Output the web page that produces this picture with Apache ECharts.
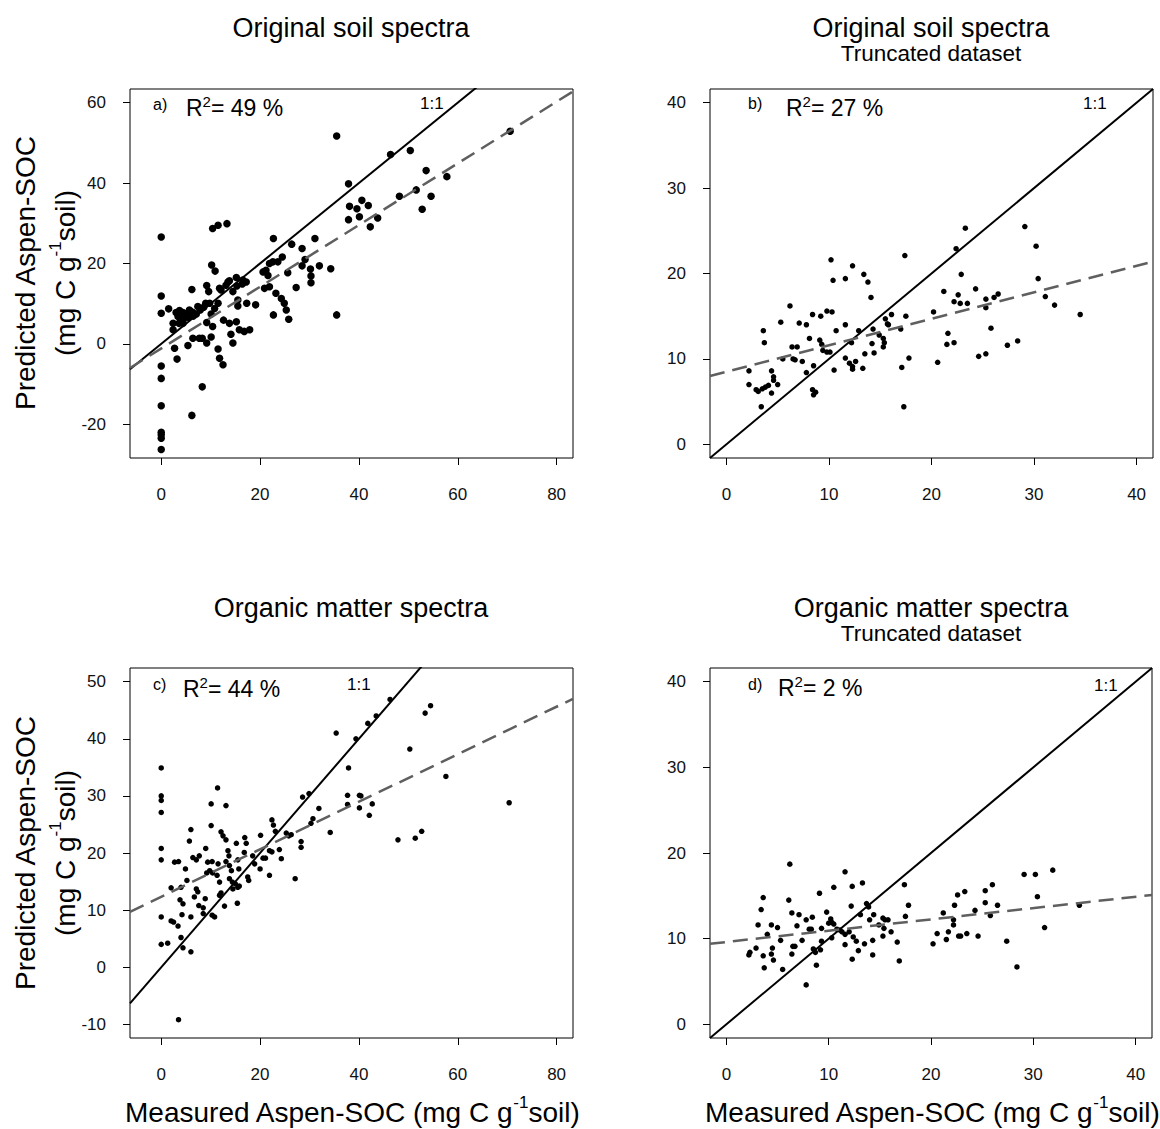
<!DOCTYPE html>
<html><head><meta charset="utf-8">
<script src="https://cdn.jsdelivr.net/npm/echarts@6/dist/echarts.min.js"></script>
<style>html,body{margin:0;padding:0;background:#fff}#c{width:1160px;height:1129px}</style>
</head><body><div id="c"></div>
<script>
// ---------- data (measured, predicted) ----------
const pointsA = [[0,26.6],[0,11.9],[0,7.6],[0,-5.5],[0,-8.6],[0,-15.4],[0,-22.0],[0,-22.6],[0,-23.5],[0,-26.3],
[1.5,8.7],[2.7,-1.1],[3.2,-3.8],[5.4,-0.4],[6.2,13.5],[6.2,-17.8],[8.3,-10.7],
[10.4,28.7],[11.5,29.5],[13.3,29.9],[10.2,19.6],[10.9,18.1],[9.2,14.5],[9.6,13.0],
[3.0,7.8],[3.7,8.3],[4.4,7.8],[5.0,7.4],[5.7,8.4],[6.4,7.8],[7.1,7.4],[7.9,8.4],[8.6,9.1],
[2.4,5.1],[3.6,5.1],[4.5,6.1],[5.5,6.6],[6.5,6.9],
[9.8,10.1],[10.8,8.8],[10.1,7.4],[11.5,10.1],[12.1,13.4],[13.1,14.6],[13.8,15.7],[15.2,16.5],[16.4,14.9],[17.2,15.4],[14.5,13.0],[15.5,10.9],
[12.6,5.9],[13.8,5.1],[15.2,5.5],[15.8,3.5],[16.8,3.1],[17.9,3.5],[14.1,2.4],[14.5,0.2],
[10.4,4.3],[10.1,1.7],[9.2,0.2],[7.7,1.4],[6.4,1.4],[11.5,-1.3],[11.8,-3.6],[12.5,-5.2],
[15.5,9.4],[17.3,10.1],[19.1,9.7],
[22.7,26.2],[26.4,24.8],[28.5,23.7],[31.1,26.2],[24.5,21.6],[22.6,20.4],[23.6,20.4],[21.2,18.3],[21.6,17.0],[20.9,13.8],[21.9,14.2],[23.2,12.6],[24.3,11.3],[24.9,10.1],[25.3,8.4],[25.8,6.1],[22.7,7.2],[25.6,17.7],[27.3,14.0],[28.5,19.4],[29.1,21.0],[30.2,18.6],[30.3,16.9],[30.3,15.2],[32.0,19.4],[34.3,18.7],[35.5,7.2],
[35.5,51.7],[37.9,39.8],[38.1,34.2],[39.6,33.6],[40.6,35.7],[41.9,34.4],[37.9,30.9],[40.1,31.6],[42.3,29.1],[43.8,31.3],
[46.4,47.1],[50.4,48.1],[53.6,43.1],[57.8,41.6],[51.6,38.3],[54.6,36.7],[48.2,36.7],[52.8,33.5],[70.6,52.9],
[9.0,10.1],[7.4,9.3],[6.1,8.0],[4.0,7.4],[3.4,6.8],[11.8,13.8],[13.5,15.4],[16.5,15.9],[15.3,14.4],[9.2,5.3],[8.3,1.4],[2.4,3.5],[4.4,5.1],[21.9,20.0],[20.6,17.9]];

const pointsB = [[2.2,8.6],[2.2,7.0],[2.9,6.4],[3.1,6.2],[3.5,6.5],[3.8,6.7],[4.1,6.9],[3.4,4.4],[3.6,13.3],[3.7,11.9],
[4.4,8.6],[4.6,7.9],[4.6,7.5],[5.0,7.0],[4.4,6.0],[5.3,14.3],[5.5,10.0],[6.2,16.2],[6.4,11.4],[6.9,11.4],
[6.5,10.0],[6.7,9.9],[7.1,14.2],[7.8,14.0],[7.4,9.7],[7.8,8.4],[8.1,12.4],[8.4,15.2],[8.5,9.2],[8.4,6.4],[8.7,6.1],[8.5,5.8],
[9.1,12.2],[9.3,11.7],[9.4,11.0],[9.2,15.0],[9.8,15.6],[10.3,15.5],[10.2,21.6],[10.4,19.2],[9.8,10.8],[10.1,10.8],
[10.7,13.3],[10.5,8.7],[11.6,14.0],[11.6,10.1],[11.6,19.4],[12.0,9.5],[12.3,9.1],[12.3,8.8],[12.6,9.7],[12.3,20.9],[12.2,11.9],
[12.9,13.3],[13.3,8.9],[13.4,19.9],[13.8,19.0],[13.5,10.6],[14.1,17.2],[14.3,13.5],[14.2,11.8],[14.4,10.7],[14.9,12.8],
[15.3,12.4],[15.4,11.9],[15.3,11.4],[15.5,14.7],[15.7,14.1],[15.8,14.0],[16.1,15.2],[17.0,13.5],[17.1,9.0],[17.4,22.1],[17.3,4.4],[17.5,15.0],[17.8,10.1],
[20.2,15.5],[20.6,9.6],[21.2,17.9],[21.6,13.0],[21.5,11.7],[22.2,11.9],[22.2,16.7],[22.6,17.5],[22.8,16.5],[23.5,16.5],[22.4,22.9],[22.9,19.9],[23.3,25.3],
[24.3,18.2],[24.6,10.3],[25.3,10.6],[25.3,17.0],[25.3,16.0],[26.1,17.2],[26.5,17.6],[25.8,13.6],[27.4,11.6],[28.4,12.1],
[29.1,25.5],[30.2,23.2],[30.4,19.4],[31.1,17.3],[32.0,16.3],[34.5,15.2]];

const pointsC = [[0,34.9],[0,30.0],[0,29.2],[0,27.1],[0,20.8],[0,18.8],[0,8.8],[0,4.0],[1.3,4.2],[2.0,13.9],[2.7,18.4],[3.5,18.5],
[2.0,8.1],[2.5,7.9],[3.4,7.2],[3.5,-9.2],[4.0,5.2],[4.4,3.4],[4.0,14.0],[3.8,11.8],[4.4,11.1],[4.2,9.2],[4.9,17.2],[5.2,15.2],
[5.7,22.1],[6.0,24.1],[6.0,8.8],[6.0,2.7],[6.4,19.2],[7.1,18.8],[7.7,19.5],[9.0,20.8],[7.1,13.7],[7.4,13.2],[6.7,12.3],
[7.6,10.8],[8.5,10.4],[8.9,12.0],[8.5,9.4],[10.3,9.1],[10.8,8.8],[9.4,18.4],[10.3,18.5],[9.8,16.9],[9.2,16.5],[10.4,16.5],
[10.1,28.6],[10.1,24.8],[11.4,31.4],[13.1,28.3],[12.1,23.7],[12.5,23.0],[13.1,22.3],[11.5,18.1],[11.3,16.1],[11.8,14.9],[12.1,13.0],[11.8,12.6],
[12.8,10.7],[13.5,20.4],[13.7,19.5],[13.1,18.5],[13.8,17.8],[14.2,16.9],[13.8,15.5],[14.4,14.9],[15.0,14.6],[14.5,13.7],[15.5,14.0],[15.8,14.2],
[15.2,21.7],[15.5,18.8],[15.7,17.2],[15.4,11.2],[16.9,22.7],[17.2,21.7],[16.8,20.1],[17.5,15.8],[17.7,15.2],[18.5,19.5],[18.9,18.1],[20.0,17.2],
[20.1,23.1],[20.6,19.1],[21.1,19.1],[21.9,16.1],[22.4,25.8],[22.7,24.9],[23.1,23.8],[21.9,20.4],[22.4,20.2],[23.9,20.6],[24.3,19.0],
[25.3,23.5],[25.8,23.0],[26.3,23.2],[27.1,15.5],[28.3,22.0],[28.3,21.0],[28.6,29.8],[29.9,30.4],[30.3,25.2],[30.7,26.0],[31.9,27.8],[34.2,23.6],
[35.4,41.0],[37.9,34.9],[37.7,30.1],[37.7,28.5],[40.1,30.1],[40.1,27.9],[40.4,30.0],[42.1,26.6],[42.7,28.6],
[39.4,40.0],[41.8,42.7],[43.5,44.0],[46.3,46.9],[47.9,22.3],[51.4,22.6],[52.7,23.8],[50.3,38.2],[53.4,44.5],[54.5,45.8],[57.6,33.4],[70.4,28.8]];

const pointsD = [[2.2,8.1],[2.3,8.4],[2.9,8.9],[3.1,11.6],[3.4,13.4],[3.6,14.8],[3.6,8.0],[3.7,6.6],[4.0,10.5],[4.4,11.6],[5.0,11.3],
[4.5,8.9],[4.4,8.2],[4.6,7.5],[5.3,9.8],[5.5,6.4],[6.2,18.7],[6.1,14.5],[6.4,13.0],[7.1,12.8],[6.4,8.2],[6.5,9.1],[6.7,9.1],
[6.9,11.5],[7.4,9.8],[7.8,12.2],[8.4,12.5],[8.1,11.1],[8.3,11.1],[7.8,4.6],[8.5,8.8],[8.7,8.4],[9.2,8.7],[8.8,6.9],[9.1,15.3],
[9.3,9.7],[9.3,11.2],[9.8,13.1],[10.2,12.3],[10.3,11.9],[10.5,11.7],[10.0,11.8],[10.3,10.1],[10.5,16.0],[10.8,11.1],[11.1,11.0],
[11.3,10.8],[11.6,10.5],[11.6,17.8],[11.6,9.3],[12.2,13.8],[12.3,16.1],[12.3,7.6],[12.0,10.8],[12.4,10.2],[12.7,9.7],[12.9,8.6],
[13.1,12.8],[13.3,16.5],[13.5,9.4],[13.7,14.1],[13.9,13.7],[14.4,12.8],[14.0,12.2],[14.3,9.8],[14.3,8.1],[14.9,11.6],
[15.3,12.4],[15.5,12.2],[15.8,12.2],[15.4,11.2],[15.3,10.3],[16.1,10.8],[16.7,9.6],[16.9,7.4],[17.4,16.3],[17.5,12.6],[17.8,13.9],
[20.2,9.4],[20.6,10.6],[21.2,13.0],[21.5,9.9],[21.7,10.8],[22.2,12.2],[22.2,11.6],[22.3,13.9],[22.6,15.1],[23.3,15.5],
[22.7,10.3],[22.9,10.3],[23.5,10.6],[24.3,13.3],[24.6,10.3],[25.3,15.6],[26.0,16.3],[25.3,14.2],[25.8,12.7],[26.5,13.9],
[27.4,9.7],[28.4,6.7],[29.1,17.5],[30.2,17.5],[31.9,18.0],[30.4,14.9],[31.1,11.3],[34.5,13.9]];

// fitted (dashed) lines: end points read at the plot edges
const fitA = [[-6.32,-6.0],[83.32,62.8]];
const fitB = [[-1.6,8.0],[41.6,21.4]];
const fitC = [[-6.32,9.7],[83.32,47.0]];
const fitD = [[-1.6,9.4],[41.6,15.1]];

// axis ranges and tick labels
const xRangeAC = [-6.32, 83.32];
const yRangeA = [-28.4, 63.4];
const yRangeC = [-12.4, 52.4];
const rangeBD = [-1.6, 41.6];
const xTicksAC = [0, 20, 40, 60, 80];
const yTicksA = [-20, 0, 20, 40, 60];
const yTicksC = [-10, 0, 10, 20, 30, 40, 50];
const ticksBD = [0, 10, 20, 30, 40];

const r2Labels = ['49', '27', '44', '2'];
const panelTags = ['a)', 'b)', 'c)', 'd)'];

// ---------- chart ----------
const FONT = '"Liberation Sans", Arial, Helvetica, sans-serif';
const chart = echarts.init(document.getElementById('c'), null, {renderer: 'svg'});

const grids = [
  {left: 130, top: 89, width: 443, height: 369},
  {left: 710, top: 89, width: 443, height: 369},
  {left: 130, top: 668, width: 443, height: 370},
  {left: 710, top: 668, width: 442, height: 370}
].map(g => Object.assign({show: true, borderColor: '#000', borderWidth: 1, backgroundColor: 'transparent'}, g));

function axis(kind, i, range, ticks) {
  return {
    type: 'value', gridIndex: i, min: range[0], max: range[1],
    splitLine: {show: false},
    axisLine: {show: false, onZero: false},
    axisTick: {show: true, length: 7, customValues: ticks, lineStyle: {color: '#000', width: 1}},
    axisLabel: {customValues: ticks, margin: kind === 'x' ? 28 : 24, fontSize: 17, color: '#111', fontFamily: FONT}
  };
}
const xAxes = [axis('x',0,xRangeAC,xTicksAC), axis('x',1,rangeBD,ticksBD), axis('x',2,xRangeAC,xTicksAC), axis('x',3,rangeBD,ticksBD)];
const yAxes = [axis('y',0,yRangeA,yTicksA), axis('y',1,rangeBD,ticksBD), axis('y',2,yRangeC,yTicksC), axis('y',3,rangeBD,ticksBD)];

const pts = [pointsA, pointsB, pointsC, pointsD];
const fits = [fitA, fitB, fitC, fitD];
const xr = [xRangeAC, rangeBD, xRangeAC, rangeBD];
const sizes = [7.5, 5.5, 5.5, 5.5];
const series = [];
pts.forEach((p, i) => {
  series.push({type: 'scatter', xAxisIndex: i, yAxisIndex: i, data: p, symbol: 'circle', symbolSize: sizes[i],
    itemStyle: {color: '#000', opacity: 1}, silent: true, z: 2});
  series.push({type: 'line', xAxisIndex: i, yAxisIndex: i, data: [[xr[i][0], xr[i][0]], [xr[i][1], xr[i][1]]],
    symbol: 'none', clip: true, lineStyle: {color: '#000', width: 2}, silent: true, z: 3});
  series.push({type: 'line', xAxisIndex: i, yAxisIndex: i, data: fits[i],
    symbol: 'none', clip: true, lineStyle: {color: '#5f5f5f', width: 2.5, type: [15, 8]}, silent: true, z: 3});
});

function txt(x, y, text, size, align, extra) {
  return Object.assign({type: 'text', x: x, y: y, silent: true,
    style: {text: text, fill: '#000', font: size + 'px ' + FONT, align: align || 'center', verticalAlign: 'middle'}}, extra || {});
}
function richTxt(x, y, parts, size, supSize, lh, align, rotation) {
  return {type: 'text', x: x, y: y, silent: true, rotation: rotation || 0,
    style: {text: parts, fill: '#000', align: align, verticalAlign: 'middle',
      rich: {n: {fontSize: size, fontFamily: FONT, fill: '#000', lineHeight: lh},
             s: {fontSize: supSize, fontFamily: FONT, fill: '#000', lineHeight: supSize, verticalAlign: 'top'}}}};
}

const tagPos = [[153,104],[748,103],[153,684],[748,684]];
const r2Pos = [[186,108],[786,108],[183,689],[778,688]];
const onePos = [[420,103],[1083,103],[347,684],[1094,685]];

const graphics = [
  txt(351, 28, 'Original soil spectra', 27),
  txt(931, 28, 'Original soil spectra', 27),
  txt(931, 53, 'Truncated dataset', 22.5),
  txt(351, 608, 'Organic matter spectra', 27),
  txt(931, 608, 'Organic matter spectra', 27),
  txt(931, 633, 'Truncated dataset', 22.5)
];
for (let i = 0; i < 4; i++) {
  graphics.push(txt(tagPos[i][0], tagPos[i][1], panelTags[i], 16, 'left'));
  graphics.push(richTxt(r2Pos[i][0], r2Pos[i][1], '{n|R}{s|2}{n|= ' + r2Labels[i] + ' %}', 23, 15, 28, 'left'));
  graphics.push(txt(onePos[i][0], onePos[i][1], '1:1', 17, 'left'));
}
[273, 853].forEach(cy => {
  graphics.push(txt(25, cy, 'Predicted Aspen-SOC', 28, 'center', {rotation: Math.PI / 2}));
  graphics.push(richTxt(65, cy, '{n|(mg C g}{s|-1}{n|soil)}', 28, 17, 36, 'center', Math.PI / 2));
});
[352, 932].forEach(cx => {
  graphics.push(richTxt(cx, 1112, '{n|Measured Aspen-SOC (mg C g}{s|-1}{n|soil)}', 28, 17, 36, 'center'));
});

chart.setOption({
  animation: false,
  backgroundColor: '#fff',
  grid: grids,
  xAxis: xAxes,
  yAxis: yAxes,
  series: series,
  graphic: graphics
});
</script></body></html>
